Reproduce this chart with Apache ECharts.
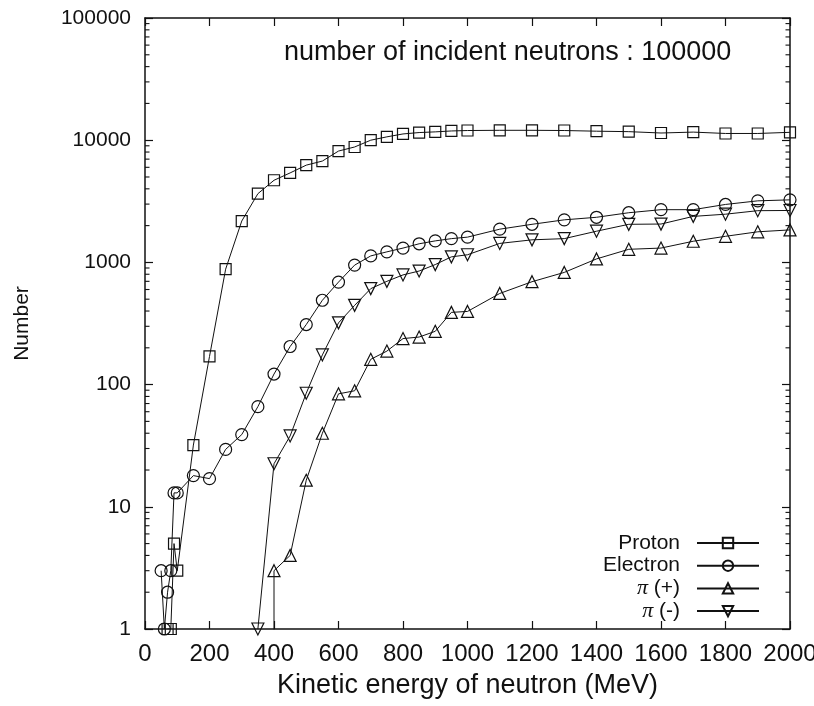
<!DOCTYPE html>
<html>
<head>
<meta charset="utf-8">
<title>Secondary particles vs. neutron energy</title>
<script src="https://cdn.jsdelivr.net/npm/echarts@6/dist/echarts.min.js"></script>
<style>
  html, body { margin: 0; padding: 0; background: #fff; }
  #chart { width: 814px; height: 706px; }
</style>
</head>
<body>
<div id="chart"></div>
<script>
// Kinetic energy of the incident neutron (MeV) and number of particles produced
const protonEnergy = [70, 80, 90, 100, 150, 200, 250, 300, 350, 400, 450, 500, 550, 600, 650, 700, 750, 800, 850, 900, 950, 1000,
  1100, 1200, 1300, 1400, 1500, 1600, 1700, 1800, 1900, 2000];
const protonCount = [1, 1, 5, 3, 32, 170, 880, 2180, 3650, 4700, 5400, 6250, 6750, 8150, 8800, 10000, 10650, 11250, 11550, 11700, 11900, 12000,
  12050, 12050, 12000, 11850, 11750, 11450, 11650, 11350, 11350, 11600];

const electronEnergy = [50, 60, 70, 80, 90, 100, 150, 200, 250, 300, 350, 400, 450, 500, 550, 600, 650, 700, 750, 800, 850, 900, 950, 1000,
  1100, 1200, 1300, 1400, 1500, 1600, 1700, 1800, 1900, 2000];
const electronCount = [3, 1, 2, 3, 13, 13, 18, 17, 29.5, 39, 66, 122, 205, 310, 490, 690, 950, 1130, 1220, 1310, 1420, 1500, 1565, 1610,
  1870, 2050, 2230, 2340, 2550, 2700, 2700, 2980, 3190, 3250];

// first entry lies below the axis minimum (clipped at the frame)
const piPlusEnergy = [400, 400, 450, 500, 550, 600, 650, 700, 750, 800, 850, 900, 950, 1000,
  1100, 1200, 1300, 1400, 1500, 1600, 1700, 1800, 1900, 2000];
const piPlusCount = [0.5, 3, 4, 16.5, 40, 84, 89, 161, 188, 238, 245, 273, 390, 397,
  557, 695, 828, 1068, 1280, 1310, 1490, 1635, 1780, 1845];

const piMinusEnergy = [350, 400, 450, 500, 550, 600, 650, 700, 750, 800, 850, 900, 950, 1000,
  1100, 1200, 1300, 1400, 1500, 1600, 1700, 1800, 1900, 2000];
const piMinusCount = [1, 22.5, 38, 85, 175, 320, 445, 610, 700, 790, 850, 960, 1110, 1155,
  1430, 1530, 1565, 1800, 2050, 2060, 2380, 2480, 2650, 2660];

const seriesNames = ['Proton', 'Electron', 'π (+)', 'π (-)'];
const yTickLabels = ['1', '10', '100', '1000', '10000', '100000'];
const xMin = 0, xMax = 2000, xStep = 200;
const yMin = 1, yMax = 100000;
const annotation = 'number of incident neutrons : 100000';

// minor ticks of the log axis: 2..9 in every decade
const minorTickValues = [];
for (let d = 0; d < 5; d++) {
  for (let k = 2; k <= 9; k++) minorTickValues.push(k * Math.pow(10, d));
}

const ink = '#111';
const sans = 'Liberation Sans';
const downTriangle = 'path://M0,0 L10,0 L5,9 Z';

function pairs(xs, ys) { return xs.map((x, i) => [x, ys[i]]); }

function lineSeries(name, xs, ys, symbol, size) {
  return {
    name: name,
    type: 'line',
    data: pairs(xs, ys),
    xAxisIndex: 0,
    yAxisIndex: 0,
    symbol: symbol,
    symbolSize: size,
    showAllSymbol: true,
    clip: true,
    lineStyle: { color: ink, width: 1 },
    itemStyle: { color: 'transparent', borderColor: ink, borderWidth: 1.2 },
    emphasis: { disabled: true },
    z: 3
  };
}

const chart = echarts.init(document.getElementById('chart'), null, { renderer: 'canvas' });

const axisLine = { show: true, onZero: false, lineStyle: { color: ink, width: 1.5 } };
const majorTick = { show: true, inside: true, length: 8, lineStyle: { color: ink, width: 1.2 } };

chart.setOption({
  backgroundColor: '#fff',
  animation: false,
  title: {
    text: annotation,
    left: 279,
    top: 34,
    textStyle: { fontFamily: sans, fontSize: 27, fontWeight: 'normal', color: ink }
  },
  grid: { left: 145, right: 24, top: 18, bottom: 77, outerBoundsMode: 'none', containLabel: false },
  legend: {
    data: seriesNames,
    orient: 'vertical',
    right: 49,
    top: 527,
    align: 'right',
    itemWidth: 62,
    itemHeight: 13,
    itemGap: 0.7,
    selectedMode: false,
    textStyle: {
      fontFamily: sans, fontSize: 21, lineHeight: 22, color: ink, padding: [0, 12, 0, 0],
      rich: { pi: { fontFamily: 'Liberation Serif', fontStyle: 'italic', fontSize: 22, lineHeight: 22, color: ink } }
    },
    formatter: function (name) { return name.replace('π', '{pi|π}'); }
  },
  xAxis: [{
    type: 'value',
    min: xMin, max: xMax, interval: xStep,
    position: 'bottom',
    name: 'Kinetic energy of neutron (MeV)',
    nameLocation: 'middle',
    nameGap: 43,
    nameTextStyle: { fontFamily: sans, fontSize: 27, color: ink },
    axisLine: axisLine,
    axisTick: majorTick,
    axisLabel: {
      fontFamily: sans, fontSize: 24, color: ink, margin: 13,
      formatter: function (v) { return String(v); }
    },
    splitLine: { show: false }
  }, {
    type: 'value',
    min: xMin, max: xMax, interval: xStep,
    position: 'top',
    axisLine: axisLine,
    axisTick: majorTick,
    axisLabel: { show: false },
    splitLine: { show: false }
  }],
  yAxis: [{
    type: 'log',
    logBase: 10,
    min: yMin, max: yMax,
    position: 'left',
    name: 'Number',
    nameLocation: 'middle',
    nameGap: 112,
    nameRotate: 90,
    nameTextStyle: { fontFamily: sans, fontSize: 21, color: ink },
    axisLine: axisLine,
    axisTick: majorTick,
    axisLabel: {
      fontFamily: sans, fontSize: 21, color: ink, margin: 14,
      formatter: function (v) { return yTickLabels[Math.round(Math.log10(v))]; }
    },
    splitLine: { show: false }
  }, {
    type: 'log',
    logBase: 10,
    min: yMin, max: yMax,
    position: 'right',
    axisLine: axisLine,
    axisTick: majorTick,
    axisLabel: { show: false },
    splitLine: { show: false }
  }],
  series: [
    lineSeries(seriesNames[0], protonEnergy, protonCount, 'rect', 11),
    lineSeries(seriesNames[1], electronEnergy, electronCount, 'circle', 12),
    lineSeries(seriesNames[2], piPlusEnergy, piPlusCount, 'triangle', 12),
    lineSeries(seriesNames[3], piMinusEnergy, piMinusCount, downTriangle, 12),
    {
      // short minor tick marks on both vertical axes
      type: 'custom',
      xAxisIndex: 0,
      yAxisIndex: 0,
      silent: true,
      clip: false,
      data: minorTickValues.map(v => [xMin, v]),
      encode: { x: 0, y: 1 },
      renderItem: function (params, api) {
        const v = api.value(1);
        const a = api.coord([xMin, v]);
        const b = api.coord([xMax, v]);
        const len = 4.5;
        const st = { stroke: ink, lineWidth: 1.1 };
        return {
          type: 'group',
          children: [
            { type: 'line', shape: { x1: a[0], y1: a[1], x2: a[0] + len, y2: a[1] }, style: st },
            { type: 'line', shape: { x1: b[0] - len, y1: b[1], x2: b[0], y2: b[1] }, style: st }
          ]
        };
      },
      z: 2
    }
  ]
});
</script>
</body>
</html>
